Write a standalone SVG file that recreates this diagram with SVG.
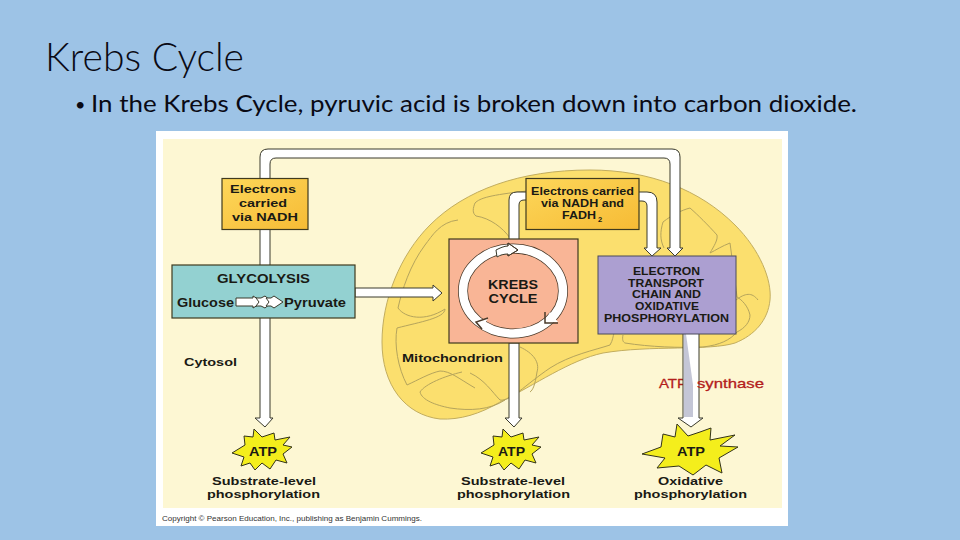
<svg xmlns="http://www.w3.org/2000/svg" width="960" height="540" viewBox="0 0 960 540">
<style>
.t{font-family:"Liberation Sans",Arial,sans-serif;font-weight:700;fill:#1a1a14;text-anchor:middle}
.s{font-size:11.500px}.m{font-size:13px}.e{font-size:10.800px}
.h{font-family:Lato,"Open Sans",sans-serif;fill:#0a0a14}
.r{font-family:"Liberation Sans",Arial,sans-serif;font-size:13.500px;fill:#b3201c;stroke:#b3201c;stroke-width:.3}
.box{stroke:#3f3a1e;stroke-width:1.200}
.a{fill:#fff;stroke:#3a3a2c;stroke-width:1;stroke-linejoin:miter}
.c{fill:none;stroke:#b5a45c;stroke-width:1}
.star{fill:#f4ee1c;stroke:#33331a;stroke-width:1;stroke-linejoin:miter}
</style>
<defs>
<polygon id="star" class="star" points="232,453 245,445 244,436 253,437 254,429 262,437 274,433 275,440 290,437 283,445 292,447 283,454 287,463 276,460 270,469 262,463 255,470 250,463 241,466 244,457"/>
<linearGradient id="g" x1="0" y1="0" x2="1" y2="1"><stop offset="0" stop-color="#fdd75a"/><stop offset="1" stop-color="#f6bb35"/></linearGradient>
</defs>
<rect width="960" height="540" fill="#9dc3e6"/>
<text class="h" x="45" y="71" font-size="39" font-weight="300" textLength="199" lengthAdjust="spacingAndGlyphs">Krebs Cycle</text>
<text class="h" x="75" y="111" font-size="18">•</text>
<text class="h" x="91" y="112" font-size="24" textLength="766" lengthAdjust="spacingAndGlyphs">In the Krebs Cycle, pyruvic acid is broken down into carbon dioxide.</text>
<rect x="156" y="131" width="632" height="395" fill="#fff"/>
<rect x="163" y="139" width="619" height="369" fill="#fdf7d3"/>
<g id="mitochondrion">
<path d="M382,342C382,300 400,255 430,225C465,190 520,170 590,170C650,170 700,190 735,225C760,250 772,280 770,300C768,320 755,335 735,343C710,351 650,345 603,353C570,360 535,385 500,402C480,414 460,420 440,419C405,415 382,385 382,342Z" fill="#fbdf6e" stroke="#c2ad5e" stroke-width="1"/>
<path class="c" d="M458,220C440,222 432,236 425,245C410,265 402,290 398,308C405,318 425,322 445,309C445,318 420,322 397,328C394,345 398,368 407,385C418,380 430,373 440,371C450,371 458,378 475,388"/>
<path class="c" d="M462,372C445,376 425,384 420,392C422,400 435,405 450,408C470,411 490,410 505,400"/>
<path class="c" d="M527,191C490,195 480,198 475,203C473,208 472,213 476,216C490,218 503,228 510,238"/>
<path class="c" d="M520,347C533,353 540,362 537,372C535,385 533,390 530,392"/>
<path class="c" d="M470,373C485,380 492,392 500,400C510,402 525,385 550,368C570,355 595,350 610,345C613,340 613,336 614,333"/>
<path class="c" d="M623,335C622,340 623,342 625,343C650,347 680,348 703,347C720,345 730,340 737,332C745,328 750,322 750,315C748,306 742,300 737,297C735,280 732,258 730,243C722,246 716,250 710,253C714,246 718,240 717,235C708,225 698,215 690,208C682,210 672,215 663,222C660,232 660,240 664,248"/>
<path class="c" d="M736,300C745,293 752,292 758,300"/>
</g>
<g id="connectors">
<path class="a" d="M260,418V157Q260,149 268,149H672Q680,149 680,157V248H683L675,256L667,248H670V164Q670,158 664,158H276Q270,158 270,164V418H273L265,427L255,418Z"/>
<path class="a" d="M355,288H433V285L442,293L433,301V297H355Z"/>
<path class="a" d="M509,240V200Q509,192 517,192H527V200H524Q519,200 519,205V240Z"/>
<path class="a" d="M638,192H647Q657,192 657,202V248H661L652,256L644,248H647V206Q647,201 642,201H638Z"/>
<path class="a" d="M509,343H519V418H522L514,427L505,418H509Z"/>
<text class="r" x="659" y="388" textLength="28" lengthAdjust="spacingAndGlyphs">ATP</text>
<path class="a" d="M683,333H699V418H703L691,427L678,418H683Z"/>
<path d="M684,334H686L693,385V417H684Z" fill="#c4c6d6"/>
<text class="r" x="697" y="388" textLength="67" lengthAdjust="spacingAndGlyphs">synthase</text>
</g>
<g id="nadh-glycolysis">
<rect class="box" x="222" y="178.500" width="86" height="51" fill="url(#g)"/>
<text class="t s" x="263" y="193" textLength="66" lengthAdjust="spacingAndGlyphs">Electrons</text>
<text class="t s" x="263" y="207" textLength="48" lengthAdjust="spacingAndGlyphs">carried</text>
<text class="t s" x="265" y="221" textLength="66" lengthAdjust="spacingAndGlyphs">via NADH</text>
</g>
<g id="glycolysis">
<rect class="box" x="172" y="265" width="183" height="53" fill="#93d1d1"/>
<text class="t m" x="263.500" y="283" textLength="93" lengthAdjust="spacingAndGlyphs">GLYCOLYSIS</text>
<text class="t m" x="205.500" y="307" textLength="57" lengthAdjust="spacingAndGlyphs">Glucose</text>
<text class="t m" x="315" y="307" textLength="62" lengthAdjust="spacingAndGlyphs">Pyruvate</text>
<path class="a" d="M236,298H253V296L263,302L253,308V306H236Z"/>
<path class="a" d="M256,298H261L265,296L272,302L265,308L261,306H256L259,302Z"/>
<path class="a" d="M266,298H271L274,296L283,302L274,308L271,306H266L269,302Z"/>
</g>
<g id="nadh-fadh">
<rect class="box" x="526" y="178.500" width="113" height="51" fill="url(#g)"/>
<text class="t s" x="582.500" y="195" textLength="103" lengthAdjust="spacingAndGlyphs">Electrons carried</text>
<text class="t s" x="582.500" y="207" textLength="83" lengthAdjust="spacingAndGlyphs">via NADH and</text>
<text class="t s" x="579" y="219" textLength="34" lengthAdjust="spacingAndGlyphs">FADH</text>
<text class="t" x="600" y="222" font-size="7.500">2</text>
</g>
<g id="krebs">
<rect class="box" x="449" y="239" width="129" height="104" fill="#f9b596" stroke-width="1.500"/>
<ellipse cx="513" cy="291" rx="50" ry="42.500" fill="none" stroke="#4a3a2a" stroke-width="10"/>
<ellipse cx="513" cy="291" rx="50" ry="42.500" fill="none" stroke="#fff" stroke-width="8.500"/>
<path class="a" d="M496,250C500,248 504,246 508,246V243L518,250L508,256V254C504,254 500,255 497,257Z" stroke="none"/>
<path d="M508,246V243L518,250L508,256V254" fill="none" stroke="#4a3a2a" stroke-width="1"/>
<path d="M550,312L558,322L544,323Z" fill="#fff"/>
<path d="M545,312V323H558" fill="none" stroke="#4a3a2a" stroke-width="1.500"/>
<path d="M476,322L488,318L482,329Z" fill="#fff"/>
<path d="M482,329L476,322L488,318" fill="none" stroke="#4a3a2a" stroke-width="1.500"/>
<text class="t m" x="513" y="289" textLength="50" lengthAdjust="spacingAndGlyphs">KREBS</text>
<text class="t m" x="513" y="303" textLength="49" lengthAdjust="spacingAndGlyphs">CYCLE</text>
</g>
<g id="etc">
<rect x="598" y="256" width="138" height="78" fill="#ac9fd1" stroke="#4a4a5a" stroke-width="1"/>
<text class="t e" x="666.500" y="275" textLength="67" lengthAdjust="spacingAndGlyphs">ELECTRON</text>
<text class="t e" x="666" y="287" textLength="76" lengthAdjust="spacingAndGlyphs">TRANSPORT</text>
<text class="t e" x="666.500" y="298" textLength="69" lengthAdjust="spacingAndGlyphs">CHAIN AND</text>
<text class="t e" x="667" y="310" textLength="64" lengthAdjust="spacingAndGlyphs">OXIDATIVE</text>
<text class="t e" x="666.500" y="322" textLength="125" lengthAdjust="spacingAndGlyphs">PHOSPHORYLATION</text>
</g>
<g id="labels">
<text class="t s" x="210.500" y="366" textLength="53" lengthAdjust="spacingAndGlyphs">Cytosol</text>
<text class="t s" x="452.500" y="362" textLength="101" lengthAdjust="spacingAndGlyphs">Mitochondrion</text>
</g>
<g id="atp-substrate-1">
<use href="#star"/>
<text class="t m" x="263" y="456" textLength="28" lengthAdjust="spacingAndGlyphs">ATP</text>
<text class="t s" x="264" y="485" textLength="104" lengthAdjust="spacingAndGlyphs">Substrate-level</text>
<text class="t s" x="263.500" y="498" textLength="113" lengthAdjust="spacingAndGlyphs">phosphorylation</text>
</g>
<g id="atp-substrate-2">
<use href="#star" x="249"/>
<text class="t m" x="511.500" y="456" textLength="27" lengthAdjust="spacingAndGlyphs">ATP</text>
<text class="t s" x="513" y="485" textLength="104" lengthAdjust="spacingAndGlyphs">Substrate-level</text>
<text class="t s" x="513.500" y="498" textLength="113" lengthAdjust="spacingAndGlyphs">phosphorylation</text>
</g>
<g id="atp-oxidative">
<polygon class="star" points="642,454 661,447 663,434 675,437 677,424 688,436 700,432 711,428 710,440 735,435 720,446 738,447 719,458 722,473 706,465 693,475 679,466 657,468 665,458"/>
<text class="t m" x="691" y="456" textLength="28" lengthAdjust="spacingAndGlyphs">ATP</text>
<text class="t s" x="690.500" y="485" textLength="65" lengthAdjust="spacingAndGlyphs">Oxidative</text>
<text class="t s" x="690.500" y="498" textLength="113" lengthAdjust="spacingAndGlyphs">phosphorylation</text>
</g>
<text x="162" y="521" font-family="Liberation Sans,Arial,sans-serif" font-size="8" fill="#333" textLength="260" lengthAdjust="spacingAndGlyphs">Copyright © Pearson Education, Inc., publishing as Benjamin Cummings.</text>
</svg>
